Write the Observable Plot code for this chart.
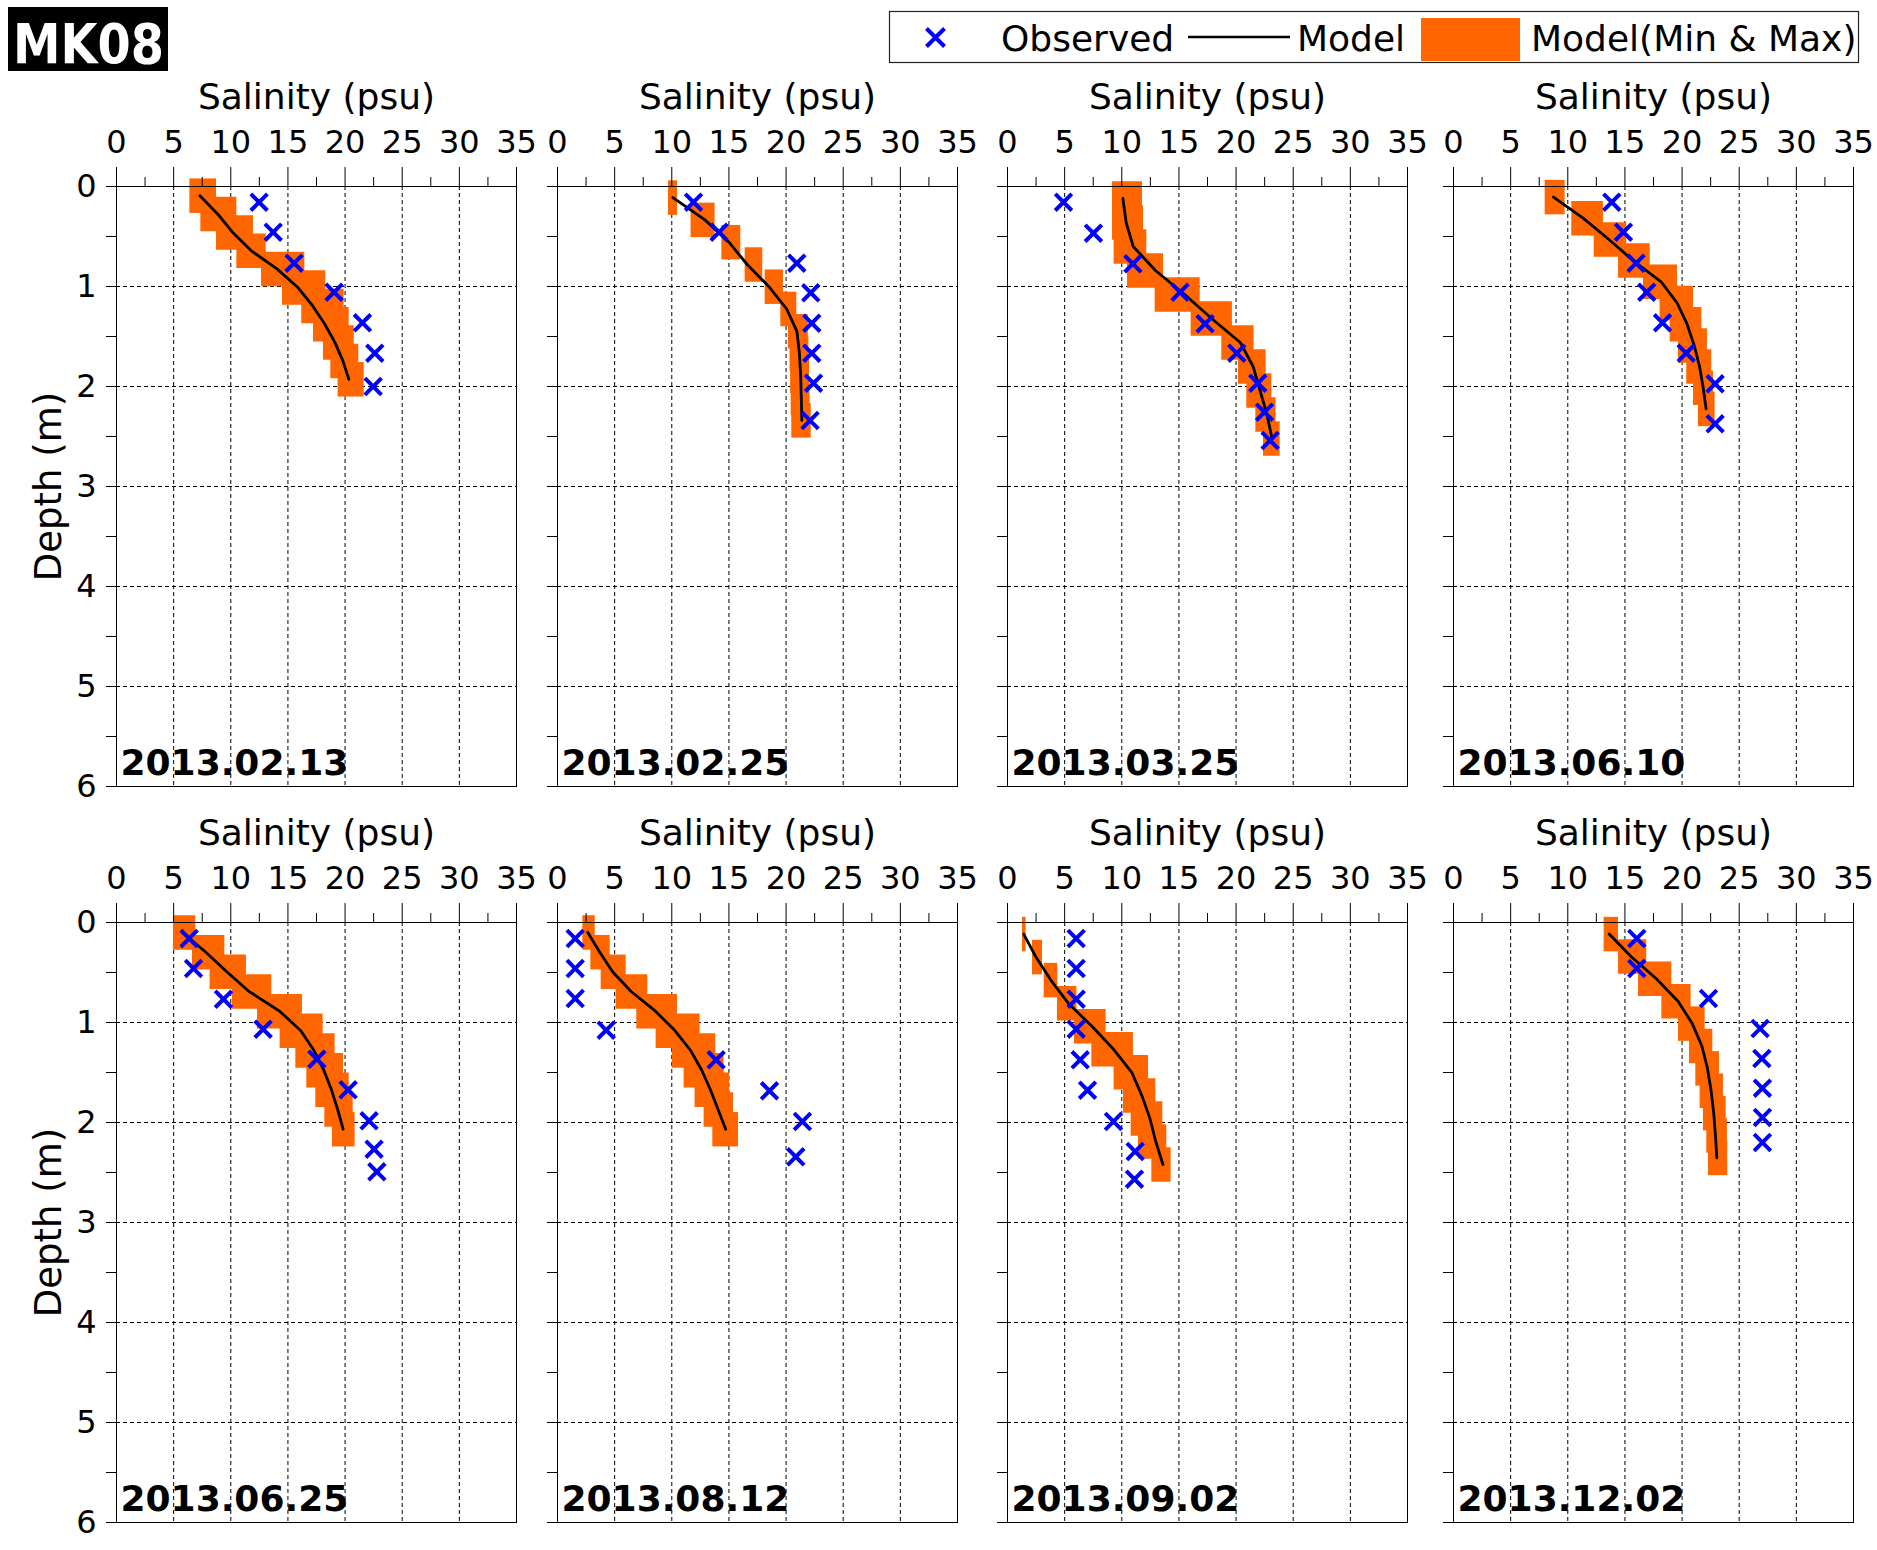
<!DOCTYPE html>
<html><head><meta charset="utf-8">
<script src="https://cdn.jsdelivr.net/npm/d3@7"></script>
<script src="https://cdn.jsdelivr.net/npm/@observablehq/plot@0.6"></script>
<style>
body{margin:0;background:#fff;}
#root{position:relative;width:1877px;height:1550px;overflow:hidden;font-family:"DejaVu Sans",Verdana,sans-serif;background:#fff;}
#root svg{position:absolute;}
</style></head><body><div id="root"></div>
<script>
// ---------- data ----------
const stationName = "MK08";
const xLabel = "Salinity (psu)";
const yLabel = "Depth (m)";
const legendLabels = ["Observed", "Model", "Model(Min & Max)"];
const dates = ["2013.02.13","2013.02.25","2013.03.25","2013.06.10","2013.06.25","2013.08.12","2013.09.02","2013.12.02"];
const salTicks = [0,5,10,15,20,25,30,35];
const salMinorTicks = [2.5,7.5,12.5,17.5,22.5,27.5,32.5];
const salGrid = [5,10,15,20,25,30];
const depthTicks = [0,1,2,3,4,5,6];
const depthMinorTicks = [0.5,1.5,2.5,3.5,4.5,5.5];
const depthGrid = [1,2,3,4,5];

// model layer centre depths (m)
const layerDepth = [
  [0.092,0.275,0.459,0.643,0.826,1.01,1.194,1.377,1.561,1.744,1.928],
  [0.111,0.334,0.557,0.78,1.002,1.225,1.448,1.671,1.893,2.116,2.339],
  [0.12,0.36,0.6,0.84,1.08,1.32,1.56,1.8,2.04,2.28,2.52],
  [0.106,0.318,0.53,0.741,0.953,1.165,1.377,1.589,1.8,2.012,2.224],
  [0.1,0.297,0.493,0.69,0.887,1.083,1.28,1.477,1.673,1.87,2.067],
  [0.1,0.297,0.493,0.69,0.887,1.083,1.28,1.477,1.673,1.87,2.067],
  [0.116,0.346,0.576,0.807,1.037,1.268,1.498,1.729,1.959,2.19,2.42],
  [0.116,0.34,0.563,0.787,1.011,1.235,1.459,1.682,1.906,2.13,2.354]
];
// model minimum salinity per layer
const modelMin = [
  [6.42,7.38,8.75,10.53,12.69,14.52,16.21,17.24,18.11,18.75,19.39],
  [9.71,11.69,14.38,16.42,18.17,19.54,20.2,20.35,20.4,20.45,20.5],
  [9.19,9.19,9.33,10.5,12.92,16.07,18.75,20.21,20.94,21.73,22.4],
  [8.02,10.35,12.31,14.44,16.62,18.08,18.96,19.69,20.41,21.0,21.43],
  [4.99,6.65,8.19,10.15,12.34,14.32,15.69,16.65,17.44,18.23,18.9],
  [2.22,2.92,3.82,5.13,6.94,8.63,10.06,11.08,12.04,12.83,13.59],
  [1.31,2.19,3.21,4.37,5.86,7.38,9.33,10.15,10.82,11.46,12.63],
  [13.18,14.44,16.19,18.23,19.69,20.65,21.2,21.58,21.87,22.16,22.31]
];
// model maximum salinity per layer
const modelMax = [
  [8.75,10.53,11.99,13.1,16.48,18.31,19.92,20.36,20.8,21.2,21.67],
  [10.5,13.79,16.04,17.96,19.77,20.94,21.95,22.0,22.05,22.1,22.2],
  [11.81,11.9,12.19,13.65,16.86,19.68,21.58,22.63,23.13,23.5,23.86],
  [9.77,13.12,15.16,17.21,19.6,21.0,21.73,22.22,22.6,22.75,22.89],
  [6.94,9.48,11.37,13.59,16.27,18.08,19.13,19.86,20.36,20.71,20.88],
  [3.3,4.61,6.01,7.9,10.5,12.48,13.85,14.58,15.05,15.4,15.84],
  [1.63,3.06,4.4,6.07,8.63,11.02,12.34,12.98,13.59,13.94,14.32],
  [14.44,16.91,19.1,20.79,22.02,22.69,23.27,23.62,23.86,23.97,24.0]
];
// model (mean) salinity per layer
const modelMean = [
  [7.3,8.85,10.17,11.8,14.07,15.87,17.17,18.23,19.12,19.81,20.33],
  [10.1,12.9,15.0,16.6,18.5,20.05,20.95,21.17,21.28,21.33,21.38],
  [10.1,10.38,11.0,12.95,15.5,17.86,20.37,21.49,22.1,22.7,23.15],
  [8.75,11.37,13.6,15.72,18.17,19.57,20.44,21.06,21.53,21.85,22.1],
  [5.77,7.82,9.65,11.6,14.28,16.13,17.28,18.14,18.81,19.35,19.83],
  [2.65,3.7,4.82,6.44,8.57,10.29,11.65,12.62,13.38,14.05,14.72],
  [1.42,2.49,3.79,5.31,7.39,9.28,10.87,11.75,12.46,12.97,13.6],
  [13.62,15.53,17.75,19.65,20.89,21.73,22.22,22.54,22.77,22.92,23.04]
];
// observed salinity
const obsSal = [
  [12.48,13.71,15.54,19.04,21.52,22.6,22.46],
  [11.9,14.14,20.94,22.16,22.25,22.25,22.4,22.1],
  [4.9,7.52,10.97,15.1,17.29,20.06,21.9,22.49,22.98],
  [13.85,14.87,15.98,16.91,18.29,20.36,22.89,22.89],
  [6.36,6.74,9.36,12.83,17.53,20.27,22.1,22.54,22.78],
  [1.55,1.55,1.55,4.26,13.88,18.55,21.43,20.85],
  [6.01,6.01,6.01,6.01,6.36,7.0,9.27,11.17,11.11],
  [16.04,16.04,22.31,26.83,26.98,27.03,27.03,27.03]
];
// observed depth
const obsDepth = [
  [0.157,0.457,0.767,1.057,1.363,1.667,2.0],
  [0.157,0.457,0.767,1.063,1.367,1.667,1.967,2.34],
  [0.157,0.467,0.773,1.057,1.373,1.667,1.967,2.257,2.54],
  [0.157,0.457,0.767,1.057,1.363,1.667,1.973,2.373],
  [0.16,0.46,0.767,1.067,1.367,1.673,1.983,2.267,2.493],
  [0.16,0.46,0.76,1.077,1.373,1.683,1.99,2.343],
  [0.16,0.46,0.767,1.067,1.373,1.677,1.99,2.29,2.567],
  [0.16,0.46,0.76,1.06,1.36,1.657,1.95,2.2]
];

// ---------- layout ----------
const ORANGE = "#ff6600", BLUE = "#0000ff";
const FONT = "DejaVu Sans";
const root = document.getElementById("root");
const FW = 400, FH = 600;
const colLeft = [116, 557, 1007, 1453];
const rowTop = [186, 922];

for (let i = 0; i < 8; i++) {
  const col = i % 4, row = Math.floor(i / 4);
  const mL = col === 0 ? 116 : 24, mT = 120, mR = 12, mB = 12;
  const layers = layerDepth[i].map((z, k) => ({z, lo: modelMin[i][k], hi: modelMax[i][k], m: modelMean[i][k]}));
  const obs = obsSal[i].map((s, k) => ({s, z: obsDepth[i][k]}));
  const marks = [
    Plot.gridX(salGrid, {stroke: "black", strokeOpacity: 1, strokeWidth: 1, strokeDasharray: "4,3"}),
    Plot.gridY(depthGrid, {stroke: "black", strokeOpacity: 1, strokeWidth: 1, strokeDasharray: "4,3"}),
    Plot.ruleY(layers, {y: "z", x1: "lo", x2: "hi", stroke: ORANGE, strokeWidth: 34.5}),
    Plot.line(layers, {x: "m", y: "z", stroke: "black", strokeWidth: 2.8}),
    Plot.dot(obs, {x: "s", y: "z", symbol: "times", r: 7.6, stroke: BLUE, strokeWidth: 4}),
    Plot.frame({stroke: "black", strokeWidth: 1}),
    Plot.axisX(salTicks, {anchor: "top", tickSize: 20, tickPadding: 14, label: null, fontSize: 32}),
    Plot.axisX(salMinorTicks, {anchor: "top", tickSize: 10, tickFormat: () => "", label: null}),
    Plot.axisY(depthTicks, {anchor: "left", tickSize: 10, tickPadding: 10, label: null, fontSize: 32,
      tickFormat: col === 0 ? (d => String(d)) : (() => "")}),
    Plot.axisY(depthMinorTicks, {anchor: "left", tickSize: 10, tickFormat: () => "", label: null}),
    Plot.text([xLabel], {frameAnchor: "top", dy: -78, lineAnchor: "bottom", fontSize: 36, text: d => d}),
    Plot.text([dates[i]], {frameAnchor: "bottom-left", dx: 4, dy: -12, textAnchor: "start", lineAnchor: "bottom",
      fontWeight: "bold", fontSize: 36, text: d => d})
  ];
  if (col === 0) marks.push(Plot.text([yLabel], {frameAnchor: "left", dx: -67, rotate: -90, textAnchor: "middle",
    lineAnchor: "middle", fontSize: 37, text: d => d}));
  const svg = Plot.plot({
    width: FW + mL + mR, height: FH + mT + mB,
    marginLeft: mL, marginTop: mT, marginRight: mR, marginBottom: mB,
    x: {domain: [0, 35]}, y: {domain: [0, 6], reverse: true},
    style: {background: "none", overflow: "visible", fontFamily: FONT, fontSize: "32px", color: "black"},
    marks
  });
  svg.style.left = (colLeft[col] - mL) + "px";
  svg.style.top = (rowTop[row] - mT) + "px";
  root.appendChild(svg);
}

// ---------- title box ----------
const NS = "http://www.w3.org/2000/svg";
const title = document.createElementNS(NS, "svg");
title.setAttribute("width", 320); title.setAttribute("height", 90);
title.style.left = "8px"; title.style.top = "7px"; title.style.overflow = "visible";
title.innerHTML = `<rect width="160" height="64" fill="black"/>
<text x="5" y="56" font-family="DejaVu Sans Condensed, ${FONT}" font-stretch="condensed" font-weight="bold" font-size="55" fill="white" textLength="151" lengthAdjust="spacingAndGlyphs">${stationName}</text>`;
root.appendChild(title);

// ---------- legend ----------
const leg = document.createElementNS(NS, "svg");
leg.setAttribute("width", 976); leg.setAttribute("height", 60);
leg.style.left = "888px"; leg.style.top = "10px";
leg.innerHTML = `<rect x="1.5" y="1.5" width="969" height="51" fill="white" stroke="#222" stroke-width="1.2"/>
<path d="M38.5,18.5L56.5,36.5M38.5,36.5L56.5,18.5" stroke="${BLUE}" stroke-width="4" fill="none"/>
<text x="113" y="41" font-family="${FONT}" font-size="36" fill="black">${legendLabels[0]}</text>
<line x1="300" x2="402" y1="27" y2="27" stroke="black" stroke-width="2.5"/>
<text x="409" y="41" font-family="${FONT}" font-size="36" fill="black">${legendLabels[1]}</text>
<rect x="533" y="8" width="99" height="43" fill="${ORANGE}"/>
<text x="643" y="41" font-family="${FONT}" font-size="36" fill="black">${legendLabels[2].replace("&","&amp;")}</text>`;
root.appendChild(leg);
</script></body></html>
